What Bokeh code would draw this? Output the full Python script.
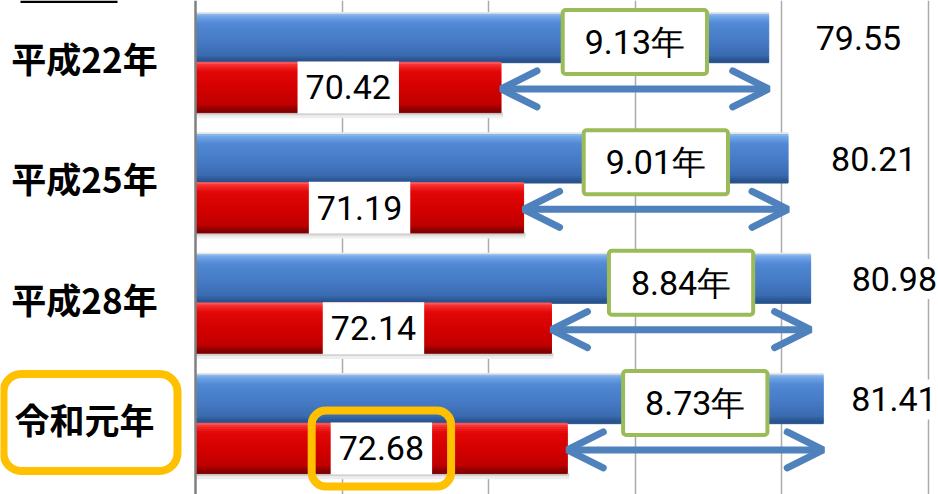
import numpy as np
from bokeh.plotting import figure
from bokeh.models import Range1d, Span, Arrow, OpenHead, FixedTicker, ColumnDataSource, BoxAnnotation
from bokeh.core.properties import value
from bokeh.embed import file_html
from bokeh.resources import INLINE

# ---------------- data ----------------
categories = ["平成22年", "平成25年", "平成28年", "令和元年"]
average_life = [79.55, 80.21, 80.98, 81.41]   # blue bars
healthy_life = [70.42, 71.19, 72.14, 72.68]   # red bars
gap_years = [9.13, 9.01, 8.84, 8.73]
axis_start = 60
grid_ticks = [65, 70, 75, 80, 85]
highlight_index = 3

# ---------------- style ----------------
W, H = 938, 494
PX_PER_UNIT = 29.32
FRAME_LEFT_PX = 195          # x of value 60 inside the figure
GROUP_PX = 120.33
TOP_PX = 62                  # y of first group boundary inside the figure
x0 = axis_start - FRAME_LEFT_PX / PX_PER_UNIT
x1 = axis_start + (W - FRAME_LEFT_PX) / PX_PER_UNIT
y_top = -TOP_PX / GROUP_PX
y_bot = (H - TOP_PX) / GROUP_PX

BLUE_H = 0.40
RED_H = 0.415
blue_stops = [(0.0, "#8DBBF0"), (0.07, "#6FA3E6"), (0.2, "#5189D4"), (0.6, "#4579C3"),
              (0.86, "#3B6BB1"), (0.93, "#2E5B99"), (1.0, "#28508A")]
red_stops = [(0.0, "#FF6A6A"), (0.07, "#F62B2B"), (0.2, "#E20808"), (0.6, "#D00000"),
             (0.86, "#BF0000"), (0.93, "#980000"), (1.0, "#7C0000")]
N_BANDS = 24
label_dx = [44, 40, 38, 25]   # pixel nudges of the outside labels

NUM_FONT = value("Roboto")
CAT_FONT = value("Noto Sans CJK JP")


def hex2rgb(h):
    return np.array([int(h[i:i + 2], 16) for i in (1, 3, 5)], dtype=float)


def interp_color(stops, t):
    for (a, ca), (b, cb) in zip(stops[:-1], stops[1:]):
        if a <= t <= b:
            f = (t - a) / (b - a)
            c = hex2rgb(ca) * (1 - f) + hex2rgb(cb) * f
            return "#%02x%02x%02x" % tuple(int(round(v)) for v in c)
    return stops[-1][1]


p = figure(width=W, height=H, x_range=Range1d(x0, x1), y_range=Range1d(y_bot, y_top),
           output_backend="svg", toolbar_location=None, min_border=0)
p.axis.visible = False
p.outline_line_color = None
p.ygrid.visible = False
p.xgrid.ticker = FixedTicker(ticks=grid_ticks)
p.xgrid.grid_line_color = "#ABABAB"
p.xgrid.grid_line_width = 1.5
p.background_fill_color = "white"

idx = np.arange(len(categories), dtype=float)
avg = np.array(average_life)
hl = np.array(healthy_life)

# soft shadows
p.hbar(y=idx - BLUE_H - 0.008, left=axis_start, right=avg, height=0.016, color="#E6E6E6")
p.hbar(y=idx + RED_H + 0.014, left=axis_start, right=hl + 0.05, height=0.028, color="#D2D2D2")
p.hbar(y=idx + RED_H + 0.036, left=axis_start, right=hl + 0.05, height=0.016, color="#EEEEEE")

# blue bars (above boundary) with vertical gradient
band = 1.0 / N_BANDS
for k in range(N_BANDS):
    f0, f1 = k * band, (k + 1) * band
    c = interp_color(blue_stops, (f0 + f1) / 2)
    p.hbar(y=idx - BLUE_H + (f0 + f1) / 2 * BLUE_H, left=axis_start, right=avg,
           height=band * BLUE_H + 0.003, color=c)
# red bars (below boundary)
for k in range(N_BANDS):
    f0, f1 = k * band, (k + 1) * band
    c = interp_color(red_stops, (f0 + f1) / 2)
    p.hbar(y=idx + (f0 + f1) / 2 * RED_H, left=axis_start, right=hl,
           height=band * RED_H + 0.003, color=c)

p.add_layout(Span(location=axis_start, dimension="height", line_color="#808080", line_width=2.5))

# fragment of a rule at the top-left corner
p.add_layout(BoxAnnotation(left=x0 + 20 / PX_PER_UNIT, right=x0 + 117 / PX_PER_UNIT,
                           top=y_top, bottom=y_top + 2.5 / GROUP_PX,
                           fill_color="black", fill_alpha=1, line_color=None))

# double arrows for the gap
arr_src = ColumnDataSource(dict(xs=hl, xe=avg, y=idx + 0.22))
p.add_layout(Arrow(source=arr_src, x_start="xs", y_start="y", x_end="xe", y_end="y",
                   line_color="#4F81BD", line_width=7,
                   start=OpenHead(size=36, line_color="#4F81BD", line_width=7, line_cap="round"),
                   end=OpenHead(size=36, line_color="#4F81BD", line_width=7, line_cap="round")))

# category labels
p.text(x=[axis_start] * 4, y=idx, text=categories, x_offset=-111, y_offset=-5,
       text_align="center", text_baseline="middle", text_font=CAT_FONT,
       text_font_style="bold", text_font_size="35px", text_color="black")
# highlight ring for latest year
p.text(x=[axis_start], y=[idx[highlight_index]], text=[categories[highlight_index]],
       x_offset=-105, y_offset=-1, text_align="center", text_baseline="middle", text_font=CAT_FONT,
       text_font_style="bold", text_font_size="35px", text_alpha=0,
       border_line_color="#FFC000", border_line_width=8, border_radius=18,
       padding=dict(left=17, right=17, top=23, bottom=23))

# red value labels (inside, centered)
p.text(x=(axis_start + hl) / 2, y=idx + RED_H / 2, text=[f"{v:.2f}" for v in healthy_life],
       text_align="center", text_baseline="middle", text_font=NUM_FONT,
       text_font_size="34px", text_color="black",
       background_fill_color="white",
       padding=dict(left=8, right=8, top=14, bottom=14))
# highlight ring around latest red label
p.text(x=[(axis_start + hl[highlight_index]) / 2], y=[idx[highlight_index] + RED_H / 2],
       text=[f"{healthy_life[highlight_index]:.2f}"],
       text_align="center", text_baseline="middle", text_font=NUM_FONT,
       text_font_size="34px", text_alpha=0,
       border_line_color="#FFC000", border_line_width=8, border_radius=14,
       padding=dict(left=27, right=27, top=26, bottom=26))

# gap boxes
p.text(x=(hl + avg) / 2, y=idx - 0.17, text=[f"{g:.2f}年" for g in gap_years],
       text_align="center", text_baseline="middle", text_font=NUM_FONT,
       text_font_size="34px", text_color="black",
       background_fill_color="white", border_line_color="#9BBB59", border_line_width=4,
       border_radius=3, padding=dict(left=22, right=22, top=12, bottom=12))

# blue value labels (outside)
p.text(x=avg, y=idx - BLUE_H / 2, text=[f"{v:.2f}" for v in average_life],
       x_offset=label_dx, text_align="left", text_baseline="middle", text_font=NUM_FONT,
       text_font_size="34px", text_color="black",
       background_fill_color="white", padding=dict(left=3, right=3, top=8, bottom=8))

open("out.html", "w").write(file_html(p, INLINE))
